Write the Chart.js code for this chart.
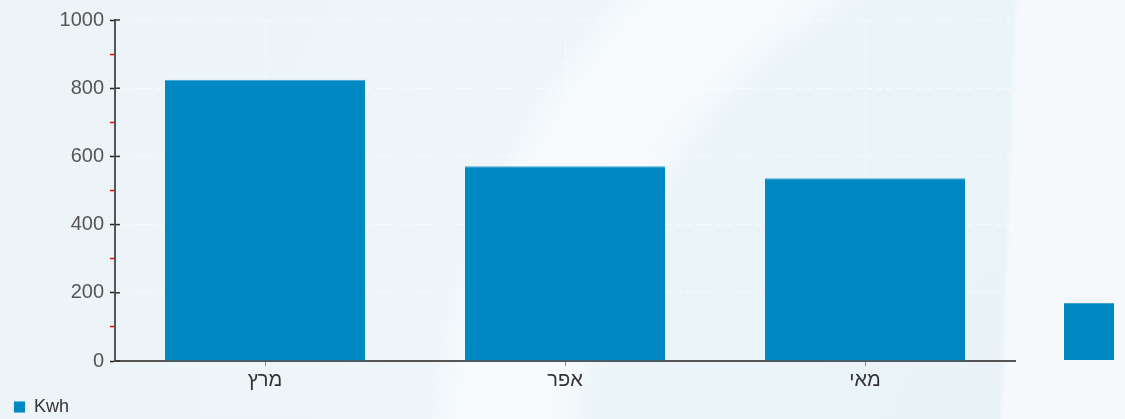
<!DOCTYPE html>
<html lang="he">
<head>
<meta charset="utf-8">
<script src="https://cdn.jsdelivr.net/npm/chart.js@4.4.1/dist/chart.umd.min.js"></script>
<style>
    html, body { margin: 0; padding: 0; }
    body {
        width: 1125px; height: 419px; overflow: hidden; position: relative;
        background:
            linear-gradient(92deg, rgba(245,249,252,0) 1012px, #f5f9fc 1019px),
            radial-gradient(circle at 1149px 484px, #e9f3f7 0, #ebf4f8 555px, #f6fafd 595px, #f7fbfd 690px, #eef5f9 728px, #edf4f8 100%);
    }
    #mainWrap { position: absolute; left: 0; top: 0; width: 1125px; height: 419px; }
    #sideWrap { position: absolute; left: 1064px; top: 20px; width: 50px; height: 340px; }
</style>
</head>
<body>
<div id="mainWrap"><canvas id="kwhChart"></canvas></div>
<div id="sideWrap"><canvas id="sideChart"></canvas></div>
<script>
const months     = ["מרץ", "אפר", "מאי"];
const kwhValues  = [825, 571, 536];
const yTicks     = [0, 200, 400, 600, 800, 1000];
const sideLabels = [""];
const sideValues = [167];

const BAR_BLUE = "#0088c2";
const FONT = "'Liberation Sans', Arial, sans-serif";

// short tick stubs on the inner side of the y axis
const innerTicks = {
    id: "innerTicks",
    afterDraw(chart) {
        const y = chart.scales.y;
        const x0 = chart.chartArea.left;
        const ctx = chart.ctx;
        ctx.save();
        ctx.strokeStyle = "#333";
        ctx.lineWidth = 1.5;
        yTicks.forEach(v => {
            const py = y.getPixelForValue(v);
            ctx.beginPath();
            ctx.moveTo(x0, py);
            ctx.lineTo(x0 + 5, py);
            ctx.stroke();
        });
        ctx.restore();
    }
};

const isMajor = c => yTicks.includes(c.tick.value);

new Chart(document.getElementById("kwhChart"), {
    type: "bar",
    data: {
        labels: months,
        datasets: [{
            label: "Kwh",
            data: kwhValues,
            backgroundColor: BAR_BLUE,
            borderColor: "#3fa3d3",
            borderWidth: { top: 1, left: 0, right: 0, bottom: 0 },
            borderSkipped: false,
            barPercentage: 0.667,
            categoryPercentage: 1,
        }]
    },
    options: {
        responsive: true,
        maintainAspectRatio: false,
        animation: false,
        layout: { padding: { top: 20, right: 110, left: 12, bottom: -7 } },
        plugins: {
            tooltip: { enabled: false },
            legend: {
                position: "bottom",
                align: "start",
                labels: {
                    boxWidth: 11,
                    boxHeight: 11,
                    padding: 2,
                    color: "#333",
                    font: { family: FONT, size: 18 }
                }
            }
        },
        scales: {
            x: {
                offset: true,
                border: { display: true, color: "#555", width: 2, dash: [6, 4] },
                grid: {
                    offset: false,
                    color: "rgba(255,255,255,0.6)",
                    tickColor: "#888",
                    tickLength: 5,
                },
                ticks: { color: "#333", padding: 2, font: { family: FONT, size: 20 } },
                afterFit: s => { s.height = 35; }
            },
            y: {
                min: 0,
                max: 1000,
                border: { display: true, color: "#555", width: 2, dash: [6, 4] },
                grid: {
                    color: c => isMajor(c) ? "rgba(255,255,255,0.6)" : "rgba(0,0,0,0)",
                    tickColor: c => isMajor(c) ? "#222" : "#ee0000",
                    tickWidth: 1.5,
                    tickLength: 5,
                },
                ticks: {
                    stepSize: 100,
                    color: "#555",
                    padding: 6,
                    font: { family: FONT, size: 20 },
                    callback: v => yTicks.includes(v) ? String(v) : ""
                },
                afterFit: s => { s.width = 103; }
            }
        }
    },
    plugins: [innerTicks]
});

new Chart(document.getElementById("sideChart"), {
    type: "bar",
    data: {
        labels: sideLabels,
        datasets: [{
            data: sideValues,
            backgroundColor: BAR_BLUE,
            borderColor: "#3fa3d3",
            borderWidth: { top: 1, left: 0, right: 0, bottom: 0 },
            borderSkipped: false,
            barPercentage: 1,
            categoryPercentage: 1,
        }]
    },
    options: {
        responsive: true,
        maintainAspectRatio: false,
        animation: false,
        layout: { padding: 0 },
        plugins: { legend: { display: false }, tooltip: { enabled: false } },
        scales: {
            x: { display: false },
            y: { display: false, min: 0, max: 1000 }
        }
    }
});
</script>
</body>
</html>
